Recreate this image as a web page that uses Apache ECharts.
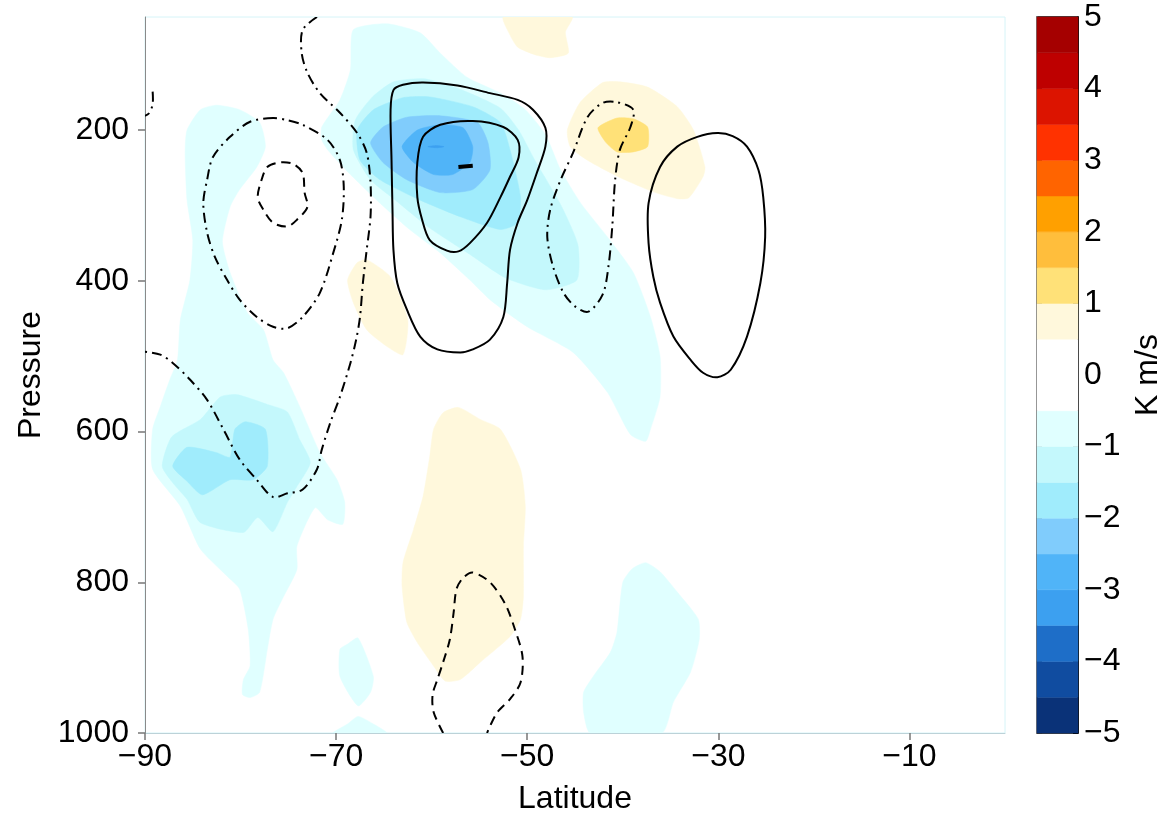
<!DOCTYPE html>
<html><head><meta charset="utf-8">
<script src="https://cdn.jsdelivr.net/npm/echarts@6/dist/echarts.min.js"></script>
<style>html,body{margin:0;padding:0;background:#fff}#c{width:1165px;height:823px}</style>
</head><body><div id="c"></div>
<script>
// ---------- axes / colour scale ----------
const xTicks = [-90, -70, -50, -30, -10];
const yTicks = [200, 400, 600, 800, 1000];
const cbTicks = [-5, -4, -3, -2, -1, 0, 1, 2, 3, 4, 5];
const cbLevels = [-5, -4.5, -4, -3.5, -3, -2.5, -2, -1.5, -1, -0.5, 0, 0.5, 1, 1.5, 2, 2.5, 3, 3.5, 4, 4.5];
const cbColors = ['#0a3278', '#104ca0', '#1e6ec8', '#3ca0f0', '#50b4f8', '#80ccfc', '#a0ecfc', '#c4f8fc', '#e0ffff', '#ffffff',
                  '#ffffff', '#fff8dc', '#ffe178', '#ffbe3c', '#ffa000', '#ff6400', '#ff3200', '#dc1400', '#be0000', '#a50000'];

// ---------- filled contour regions [latitude, pressure] ----------
const fillBandTop_m05 = [[-68.2,67],[-64.7,59],[-61.2,71],[-59.1,98],[-56.3,130],[-52.8,151],[-50.2,173],[-48.1,206],[-46.5,253],[-44.4,297],[-41.6,342],[-38.9,389],[-37.1,448],[-36.1,500],[-36.1,554],[-37.1,597],[-37.6,613],[-39.2,604],[-41.6,548],[-45.2,495],[-50.0,461],[-53.9,425],[-56.0,399],[-59.1,363],[-62.3,332],[-65.4,297],[-68.5,259],[-70.9,226],[-71.5,213],[-71.5,196],[-69.6,160],[-68.5,120]];
const fillBandTop_m10 = [[-68.2,226],[-68.0,187],[-66.2,156],[-64.0,136],[-60.7,132],[-56.8,147],[-52.8,171],[-50.9,200],[-49.2,240],[-46.5,299],[-44.7,352],[-44.8,399],[-48.1,412],[-52.3,396],[-56.0,365],[-60.2,330],[-63.8,293],[-66.4,266]];
const fillBandTop_m15 = [[-67.8,200],[-66.1,173],[-63.0,157],[-60.2,156],[-55.7,169],[-52.8,190],[-51.8,226],[-50.7,289],[-51.0,323],[-52.8,332],[-57.0,315],[-61.2,293],[-65.4,266],[-67.5,240]];
const fillBandTop_m20 = [[-66.4,217],[-65.1,196],[-62.6,183],[-59.1,181],[-55.2,190],[-54.1,217],[-53.9,253],[-55.7,279],[-59.1,283],[-62.6,266],[-65.1,243]];
const fillBandTop_m25 = [[-63.1,222],[-61.5,200],[-59.1,193],[-56.7,197],[-55.7,222],[-56.0,243],[-57.8,259],[-59.8,259],[-61.9,243]];
const fillBandTop_m30 = [[-60.4,222],[-59.5,220.5],[-58.7,222],[-59.5,223.5]];
const fillLeft_m05 = [[-85.6,200],[-84.2,173],[-82.5,167],[-80.1,173],[-78.0,190],[-77.4,222],[-78.3,249],[-80.1,279],[-81.1,302],[-81.9,348],[-81.1,389],[-79.3,442],[-77.6,465],[-76.6,505],[-75.5,522],[-73.8,567],[-71.7,628],[-69.9,664],[-69.1,694],[-69.3,723],[-70.9,717],[-72.2,701],[-74.1,752],[-74.1,783],[-75.5,819],[-76.6,849],[-77.2,889],[-78.0,946],[-79.0,953],[-79.8,949],[-79.7,929],[-79.0,911],[-79.2,862],[-80.1,809],[-81.4,792],[-84.2,756],[-86.3,699],[-89.2,650],[-89.2,597],[-88.4,567],[-87.4,531],[-86.6,505],[-86.3,452],[-85.3,399],[-85.0,346],[-85.6,293],[-85.8,230]];
const fillLeft_m10 = [[-88.2,646],[-87.2,607],[-84.2,584],[-82.1,554],[-80.4,551],[-77.2,564],[-75.1,574],[-73.8,611],[-72.7,641],[-74.1,673],[-75.1,694],[-76.6,733],[-78.2,714],[-79.7,734],[-84.2,721],[-85.6,690],[-87.1,668]];
const fillLeft_m15 = [[-87.1,646],[-85.6,621],[-82.5,628],[-81.1,634],[-80.6,597],[-79.5,587],[-77.4,597],[-77.2,646],[-78.7,664],[-81.1,664],[-84.0,684],[-85.6,666]];
const fillBlobA_m05 = [[-69.6,889],[-68.8,882],[-67.7,874],[-66.1,925],[-66.4,946],[-67.7,964],[-69.6,925]];
const fillBlobB_m05 = [[-70.3,1000],[-68.8,988],[-67.7,978],[-66.1,988],[-64.7,1000]];
const fillLowRight_m05 = [[-43.4,1000],[-44.1,972],[-44.1,946],[-43.1,925],[-41.3,893],[-40.6,866],[-40.0,800],[-39.0,782],[-37.6,774],[-36.1,786],[-34.3,813],[-32.1,849],[-32.0,876],[-32.9,919],[-34.7,959],[-35.9,1000]];
const fillTopYel_p05 = [[-52.5,50],[-51.8,74],[-51.0,90],[-49.2,100],[-47.6,104],[-45.7,98],[-46.0,70],[-45.3,50]];
const fillUpperYel_p05 = [[-45.8,200],[-44.5,164],[-42.1,137],[-40.3,136],[-37.4,143],[-34.3,169],[-32.6,200],[-31.4,249],[-31.6,262],[-33.1,290],[-34.3,291],[-36.8,282],[-40.3,263],[-43.7,240],[-45.5,222]];
const fillUpperYel_p10 = [[-42.6,197],[-40.6,184],[-38.9,185],[-37.4,196],[-37.4,222],[-38.9,229],[-40.6,229],[-41.8,216]];
const fillMidYel_p05 = [[-68.8,399],[-67.8,376],[-66.8,372],[-64.3,395],[-62.5,452],[-63.0,498],[-64.7,487],[-66.8,465],[-68.2,429]];
const fillLowYel_p05 = [[-59.8,597],[-58.8,575],[-57.2,568],[-54.9,584],[-52.8,597],[-50.7,650],[-50.2,699],[-50.4,752],[-50.4,819],[-50.7,849],[-51.8,872],[-54.9,906],[-57.0,929],[-58.6,931],[-59.8,911],[-61.5,880],[-62.6,853],[-63.1,805],[-63.0,774],[-61.9,730],[-60.9,686],[-60.2,633]];

const fillLevels = [-0.5, -0.5, -0.5, -0.5, -0.5, -1, -1, -1.5, -1.5, -2, -2.5, -3, 0.5, 0.5, 0.5, 0.5, 1];
const fillShapes = [fillBandTop_m05, fillLeft_m05, fillBlobA_m05, fillBlobB_m05, fillLowRight_m05,
                    fillBandTop_m10, fillLeft_m10, fillBandTop_m15, fillLeft_m15, fillBandTop_m20, fillBandTop_m25, fillBandTop_m30,
                    fillTopYel_p05, fillUpperYel_p05, fillMidYel_p05, fillLowYel_p05, fillUpperYel_p10];

// ---------- contour lines [latitude, pressure] ----------
const lineOuterSolid = [[-64.0,147],[-63.0,140],[-60.9,137],[-57.3,141],[-53.9,151],[-51.0,160],[-49.4,173],[-48.1,197],[-48.1,222],[-49.0,257],[-50.0,293],[-51.0,323],[-51.8,359],[-52.1,403],[-52.5,448],[-53.9,478],[-55.7,491],[-57.0,495],[-59.4,491],[-61.2,474],[-62.6,438],[-63.6,403],[-64.0,359],[-64.1,306],[-64.2,240],[-64.3,173]];
const lineInnerSolid = [[-61.5,243],[-60.9,209],[-59.1,193],[-55.7,188],[-52.5,196],[-51.0,213],[-50.9,236],[-51.8,262],[-52.8,289],[-54.2,323],[-56.0,350],[-57.2,361],[-58.4,360],[-60.2,346],[-61.0,319],[-61.5,289]];
const lineRightSolid = [[-30.1,204],[-32.2,209],[-34.3,222],[-36.1,249],[-37.3,297],[-37.3,350],[-36.8,395],[-36.1,429],[-34.7,474],[-32.9,505],[-31.6,522],[-30.1,528],[-28.7,518],[-27.0,474],[-25.6,403],[-25.1,342],[-25.3,289],[-25.8,253],[-27.0,222],[-28.5,208]];
const lineCoreMark = [[-57.2,249],[-55.7,247.5]];
const lineLeftSmallDashed = [[-77.2,249],[-75.9,243],[-74.5,245],[-73.5,257],[-73.3,283],[-73.0,302],[-74.1,319],[-75.1,328],[-76.6,323],[-77.6,306],[-78.2,289],[-77.8,266]];
const lineLowDashed = [[-58.8,1000],[-59.8,972],[-59.9,949],[-59.4,929],[-58.8,906],[-58.1,876],[-57.7,840],[-57.4,809],[-56.7,794],[-55.7,787],[-53.9,800],[-52.3,829],[-51.3,862],[-50.5,898],[-50.7,933],[-51.8,955],[-53.1,972],[-53.9,991],[-54.2,1000]];
const lineLeftLoopDashDot = [[-76.6,184],[-79.0,189],[-81.1,209],[-82.9,236],[-83.5,266],[-83.9,297],[-83.5,336],[-82.7,368],[-81.4,399],[-80.1,425],[-78.3,448],[-76.6,461],[-75.1,463],[-73.5,448],[-71.7,416],[-70.3,363],[-69.4,319],[-69.2,275],[-69.6,240],[-70.9,213],[-73.5,193],[-75.1,187]];
const lineRightLoopDashDot = [[-38.9,173],[-40.6,163],[-42.1,164],[-43.7,183],[-45.2,230],[-46.5,266],[-47.6,306],[-47.9,342],[-47.3,381],[-46.2,416],[-45.0,434],[-43.6,441],[-42.1,418],[-41.5,381],[-41.1,328],[-40.8,266],[-40.3,226],[-39.2,196]];
const lineLongDashDot = [[-72.0,50],[-73.5,67],[-73.6,98],[-73.0,124],[-71.7,151],[-69.6,177],[-67.8,204],[-66.8,230],[-66.4,270],[-66.4,315],[-66.8,359],[-67.2,403],[-67.5,448],[-67.9,478],[-68.5,509],[-69.6,554],[-70.6,588],[-71.5,624],[-72.0,650],[-73.5,677],[-75.1,682],[-76.6,687],[-78.3,664],[-80.1,637],[-81.8,597],[-83.5,558],[-85.3,531],[-87.1,509],[-88.4,498],[-90.0,494]];
const lineEdgeDashDot = [[-89.2,149],[-89.2,166],[-89.6,178],[-90.0,181]];

// ---------- build ----------
const FONT = 'Liberation Sans';
const minus = v => String(v).replace('-', '\u2212');
const plain = v => String(v);
function binColor(level) {
  const idx = level < 0 ? Math.round((level + 5) / 0.5) - 1 : Math.round((level + 5) / 0.5);
  return cbColors[idx];
}

function shapeSeries(list, closed, styleFn, smooth) {
  return {
    type: 'custom', xAxisIndex: 0, yAxisIndex: 0, clip: true, silent: true, animation: false,
    data: list.map(pts => [pts[0][0], pts[0][1]]),
    renderItem: (params, api) => {
      const pts = list[params.dataIndex].map(p => api.coord(p));
      return {
        type: closed ? 'polygon' : 'polyline',
        shape: { points: pts, smooth: smooth },
        style: styleFn(params.dataIndex)
      };
    }
  };
}

const solidStyle = { fill: 'none', stroke: '#000', lineWidth: 2 };
const dashStyle = { fill: 'none', stroke: '#000', lineWidth: 2, lineDash: [9, 6] };
const dashDotStyle = { fill: 'none', stroke: '#000', lineWidth: 2, lineDash: [10, 5, 2, 5] };

const series = [
  shapeSeries(fillShapes, true, i => ({ fill: binColor(fillLevels[i]), stroke: binColor(fillLevels[i]), lineWidth: 0.5 }), 0.2),
  shapeSeries([lineOuterSolid, lineInnerSolid, lineRightSolid], true, () => solidStyle, 0.3),
  shapeSeries([lineCoreMark], false, () => ({ fill: 'none', stroke: '#000', lineWidth: 4 }), 0),
  shapeSeries([lineLeftSmallDashed], true, () => dashStyle, 0.3),
  shapeSeries([lineLowDashed], false, () => dashStyle, 0.3),
  shapeSeries([lineLeftLoopDashDot, lineRightLoopDashDot], true, () => dashDotStyle, 0.3),
  shapeSeries([lineLongDashDot, lineEdgeDashDot], false, () => dashDotStyle, 0.3),
  {
    type: 'custom', xAxisIndex: 1, yAxisIndex: 1, silent: true, animation: false,
    data: cbLevels.map(l => [0, l]),
    renderItem: (params, api) => {
      const lo = cbLevels[params.dataIndex];
      const a = api.coord([0, lo]), b = api.coord([1, lo + 0.5]);
      const c = cbColors[params.dataIndex];
      return { type: 'rect', shape: { x: a[0], y: b[1], width: b[0] - a[0], height: a[1] - b[1] },
               style: { fill: c, stroke: c, lineWidth: 0.5 } };
    }
  }
];

const labelFont = { color: '#000', fontFamily: FONT, fontSize: 32 };
const nameFont = { color: '#000', fontFamily: FONT, fontSize: 32 };

const option = {
  backgroundColor: '#fff',
  animation: false,
  grid: [
    { left: 145, top: 17, width: 860, height: 716, show: true, borderColor: '#d6f4f8', borderWidth: 1, backgroundColor: 'transparent' },
    { left: 1037, top: 17, width: 43, height: 716, show: true, borderColor: '#000', borderWidth: 1.5, backgroundColor: 'transparent' }
  ],
  xAxis: [
    {
      type: 'value', gridIndex: 0, min: -90, max: 0,
      name: 'Latitude', nameLocation: 'middle', nameGap: 50,
      nameTextStyle: nameFont,
      axisLine: { show: true, onZero: false, lineStyle: { color: '#bcd2d8', width: 1 } },
      axisTick: { show: true, inside: false, length: 7, customValues: xTicks, lineStyle: { color: '#777', width: 1.5 } },
      axisLabel: Object.assign({ margin: 8, customValues: xTicks, formatter: minus }, labelFont),
      splitLine: { show: false }
    },
    { type: 'value', gridIndex: 1, min: 0, max: 1, show: false }
  ],
  yAxis: [
    {
      type: 'value', gridIndex: 0, min: 50, max: 1000, inverse: true,
      name: 'Pressure', nameLocation: 'middle', nameGap: 96, nameRotate: 90,
      nameTextStyle: nameFont,
      axisLine: { show: true, onZero: false, lineStyle: { color: '#8a8a8a', width: 1 } },
      axisTick: { show: true, inside: false, length: 7, customValues: yTicks, lineStyle: { color: '#777', width: 1.5 } },
      axisLabel: Object.assign({ margin: 16, customValues: yTicks, formatter: plain }, labelFont),
      splitLine: { show: false }
    },
    {
      type: 'value', gridIndex: 1, min: -5, max: 5, interval: 1, position: 'right',
      name: 'K m/s', nameLocation: 'middle', nameGap: 54, nameRotate: 90,
      nameTextStyle: nameFont,
      axisLine: { show: true, onZero: false, lineStyle: { color: '#000', width: 1.5 } },
      axisTick: { show: true, inside: true, length: 5, lineStyle: { color: '#000', width: 1 } },
      axisLabel: Object.assign({ margin: 6, formatter: minus }, labelFont),
      splitLine: { show: false }
    },
    {
      type: 'value', gridIndex: 1, min: -5, max: 5, interval: 1, position: 'left',
      axisLine: { show: true, onZero: false, lineStyle: { color: '#888', width: 1.5 } },
      axisTick: { show: true, inside: true, length: 5, lineStyle: { color: '#333', width: 1 } },
      axisLabel: { show: false },
      splitLine: { show: false }
    }
  ],
  series: series
};

const chart = echarts.init(document.getElementById('c'), null, { renderer: 'canvas' });
chart.setOption(option);
</script>
</body></html>
